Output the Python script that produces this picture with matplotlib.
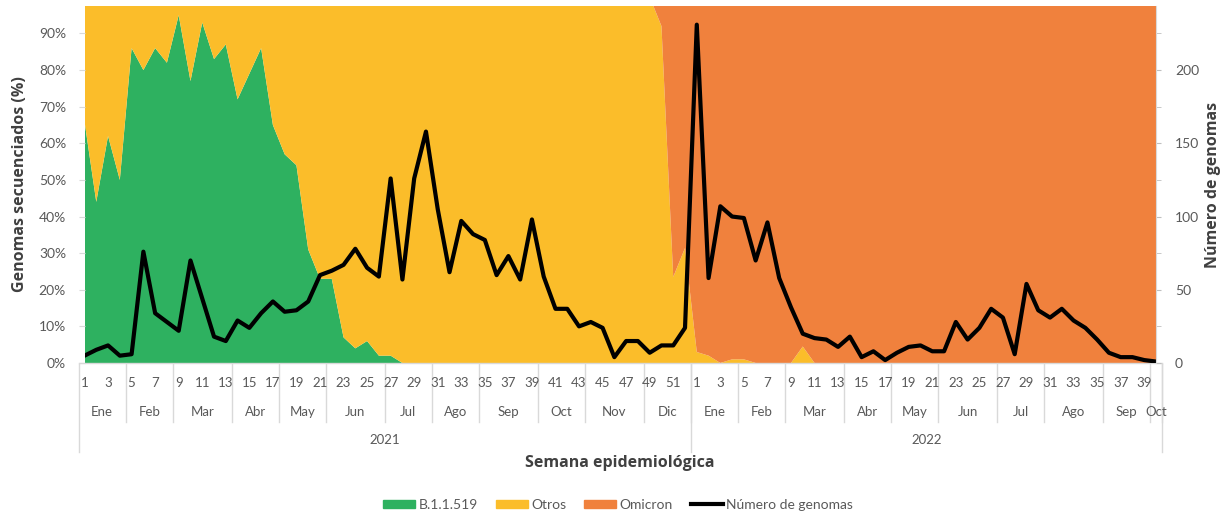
import numpy as np
import matplotlib
matplotlib.use("Agg")
import matplotlib.pyplot as plt
from matplotlib.patches import Patch
from matplotlib.lines import Line2D

# porcentaje semanal de cada linaje (2021 sem 1-52, 2022 sem 1-40)
b11519 = [66, 44, 62, 50, 86, 80, 86, 82, 95, 77, 93, 83, 87, 72, 79, 86, 65, 57, 54, 31,
          23, 23, 7, 4, 6, 2, 2, 0] + [0] * 24 + [0] * 40
omicron = [0] * 49 + [8, 76.5, 68.6] + \
          [97, 98, 100, 99, 99, 100, 100, 100, 100, 95.5] + [100] * 30
otros = [100 - a - b for a, b in zip(b11519, omicron)]

genomas = [5, 9, 12, 5, 6, 76, 34, 28, 22, 70, 44, 18, 15, 29, 24, 34, 42, 35, 36, 42,
           60, 63, 67, 78, 65, 59, 126, 57, 126, 158, 105, 62, 97, 88, 84, 60, 73, 57, 98, 59,
           37, 37, 25, 28, 24, 4, 15, 15, 7, 12, 12, 24,
           231, 58, 107, 100, 99, 70, 96, 58, 38, 20, 17, 16, 11, 18, 4, 8, 2, 7, 11, 12,
           8, 8, 28, 16, 24, 37, 31, 6, 54, 36, 31, 37, 29, 24, 16, 7, 4, 4, 2, 1]

years = ["2021", "2022"]
weeks_per_year = [52, 40]
months_2021 = ["Ene", "Feb", "Mar", "Abr", "May", "Jun", "Jul", "Ago", "Sep", "Oct", "Nov", "Dic"]
month_weeks_2021 = [4, 4, 5, 4, 4, 5, 4, 4, 5, 4, 5, 4]
months_2022 = ["Ene", "Feb", "Mar", "Abr", "May", "Jun", "Jul", "Ago", "Sep", "Oct"]
month_weeks_2022 = [4, 4, 5, 4, 4, 5, 4, 5, 4, 1]

green = "#2eb160"
yellow = "#fbbd2a"
orange = "#f0813d"
grey_txt = "#595959"
grey_line = "#d9d9d9"

plt.rcParams["font.family"] = ["Lato", "DejaVu Sans"]

fig = plt.figure(figsize=(12.25, 5.2), dpi=100)
# pixel geometry of plot area: x 84.5..1156, y 6..363
ax = fig.add_axes([84.5 / 1225, (520 - 363) / 520, (1156 - 84.5) / 1225, 357 / 520])

x = np.arange(len(genomas))
ax.stackplot(x, b11519, otros, omicron, colors=[green, yellow, orange], linewidth=0)
ax.set_xlim(0, len(genomas) - 1)
ax.set_ylim(0, 97.5)
ax.set_yticks(range(0, 100, 10))
ax.set_yticklabels([f"{v}%" for v in range(0, 100, 10)])
ax.tick_params(axis="y", length=4.3, color=grey_line, labelcolor=grey_txt,
               labelsize=10, pad=9)
ax.tick_params(axis="x", bottom=False, labelbottom=False)
for s in ax.spines.values():
    s.set_visible(False)
ax.set_ylabel("Genomas secuenciados (%)", fontsize=11.5, fontweight="bold",
              color="#404040", family="Open Sans", labelpad=8)

ax2 = ax.twinx()
ax2.plot(x, genomas, color="black", lw=3)
ax2.set_ylim(0, 243.75)
ax2.set_yticks(range(0, 201, 50))
ax2.set_yticks(range(25, 240, 50), minor=True)
ax2.tick_params(axis="y", which="both", length=3.6, color="#bfbfbf",
                labelcolor=grey_txt, labelsize=10, pad=10)
ax2.tick_params(axis="x", bottom=False, labelbottom=False)
for k, s in ax2.spines.items():
    s.set_visible(k == "right")
ax2.spines["right"].set_color(grey_line)
ax2.set_ylabel("Número de genomas", fontsize=11.5, fontweight="bold",
               color="#404040", family="Open Sans", labelpad=4)


def ypx(p):
    # pixel row -> axes fraction
    return (363 - p) / 357


tr = ax.get_xaxis_transform()
n = len(genomas)
ax.plot([-0.5, n - 0.5], [0, 0], transform=tr, color=grey_line, lw=1, clip_on=False)

# week numbers
start = 0
for yr, nw in zip(years, weeks_per_year):
    for w in range(1, nw + 1, 2):
        ax.text(start + w - 1, ypx(383), str(w), transform=tr, ha="center", va="center",
                fontsize=9.5, color=grey_txt)
    start += nw

# months
start = 0
for names, counts in [(months_2021, month_weeks_2021), (months_2022, month_weeks_2022)]:
    for name, c in zip(names, counts):
        ax.text(start + (c - 1) / 2, ypx(411.5), name, transform=tr, ha="center",
                va="center", fontsize=9.5, color=grey_txt)
        start += c
        ax.plot([start - 0.5] * 2, [ypx(364), ypx(422)], transform=tr, color=grey_line,
                lw=1, clip_on=False)

# years
start = 0
ax.plot([-0.5] * 2, [ypx(364), ypx(452)], transform=tr, color=grey_line, lw=1, clip_on=False)
for yr, nw in zip(years, weeks_per_year):
    ax.text(start + (nw - 1) / 2, ypx(440), yr, transform=tr, ha="center", va="center",
            fontsize=9.5, color=grey_txt)
    start += nw
    ax.plot([start - 0.5] * 2, [ypx(364), ypx(452)], transform=tr, color=grey_line,
            lw=1, clip_on=False)

fig.text(620 / 1225, 1 - 463 / 520, "Semana epidemiológica", ha="center", va="center",
         fontsize=11.5, fontweight="bold", color="#404040", family="Open Sans")

handles = [Patch(color=green), Patch(color=yellow), Patch(color=orange),
           Line2D([], [], color="black", lw=3)]
labels = ["B.1.1.519", "Otros", "Omicron", "Número de genomas"]
fig.legend(handles, labels, loc="center", bbox_to_anchor=(618 / 1225, 1 - 505 / 520),
           ncol=4, frameon=False, fontsize=10, labelcolor=grey_txt, handlelength=2.3,
           handleheight=0.55, handletextpad=0.25, columnspacing=1.3)

fig.savefig("out.png", dpi=100)
